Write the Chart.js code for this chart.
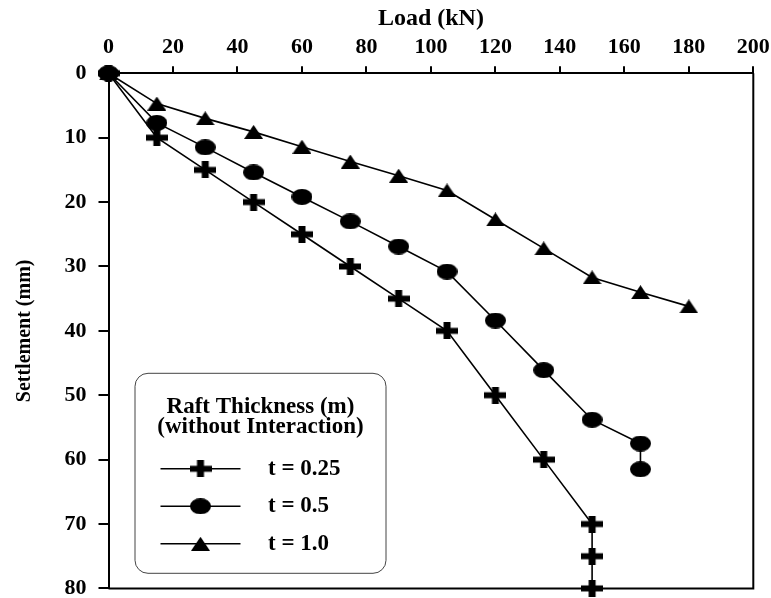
<!DOCTYPE html>
<html>
<head>
<meta charset="utf-8">
<script src="https://cdn.jsdelivr.net/npm/chart.js@4.4.0/dist/chart.umd.min.js"></script>
<style>
  html, body { margin: 0; padding: 0; background: #fff; }
</style>
</head>
<body>
<canvas id="myChart" width="771" height="598"></canvas>
<script>
// load (kN) vs settlement (mm)
var loadT025 = [0, 15, 30, 45, 60, 75, 90, 105, 120, 135, 150, 150, 150];
var settleT025 = [0, 10, 15, 20, 25, 30, 35, 40, 50, 60, 70, 75, 80];

var loadT05 = [0, 15, 30, 45, 60, 75, 90, 105, 120, 135, 150, 165, 165];
var settleT05 = [0, 7.7, 11.5, 15.4, 19.2, 23.0, 26.9, 30.8, 38.4, 46.1, 53.8, 57.5, 61.5];

var loadT10 = [0, 15, 30, 45, 60, 75, 90, 105, 120, 135, 150, 165, 180];
var settleT10 = [0, 4.7, 7.0, 9.1, 11.4, 13.7, 15.9, 18.2, 22.7, 27.2, 31.7, 34.0, 36.2];

var seriesNames = ['t = 0.25', 't = 0.5', 't = 1.0'];
var keyTitle = ['Raft Thickness (m)', '(without Interaction)'];
var loadTicks = [0, 20, 40, 60, 80, 100, 120, 140, 160, 180, 200];
var settleTicks = [0, 10, 20, 30, 40, 50, 60, 70, 80];

var FONT = "'Liberation Serif', 'Times New Roman', serif";

function pts(xs, ys) {
    return xs.map(function (x, i) { return { x: x, y: ys[i] }; });
}

// the markers in the figure are a bit stretched, so build them as small images
function makeMarker(kind) {
    var c = document.createElement('canvas');
    var g;
    if (kind === 'plus') {
        c.width = 22; c.height = 17;
        g = c.getContext('2d');
        g.fillStyle = '#000';
        g.fillRect(0, 5.5, 22, 6);
        g.fillRect(7.5, 0, 7, 17);
    } else if (kind === 'ellipse') {
        c.width = 21; c.height = 16;
        g = c.getContext('2d');
        g.fillStyle = '#000';
        g.beginPath();
        g.ellipse(10.5, 8, 10.5, 8, 0, 0, Math.PI * 2);
        g.fill();
    } else {
        c.width = 19; c.height = 14;
        g = c.getContext('2d');
        g.fillStyle = '#000';
        g.beginPath();
        g.moveTo(9.5, 0);
        g.lineTo(19, 14);
        g.lineTo(0, 14);
        g.closePath();
        g.fill();
    }
    return c;
}

var markers = [makeMarker('plus'), makeMarker('ellipse'), makeMarker('triangle')];

function roundBox(ctx, x, y, w, h, r) {
    ctx.beginPath();
    ctx.moveTo(x + r, y);
    ctx.arcTo(x + w, y, x + w, y + h, r);
    ctx.arcTo(x + w, y + h, x, y + h, r);
    ctx.arcTo(x, y + h, x, y, r);
    ctx.arcTo(x, y, x + w, y, r);
    ctx.closePath();
}

var frameAndKey = {
    id: 'frameAndKey',
    beforeDatasetsDraw: function (chart) {
        var a = chart.chartArea, ctx = chart.ctx;
        ctx.save();
        ctx.strokeStyle = '#000';
        ctx.lineWidth = 2;
        ctx.beginPath();
        ctx.moveTo(a.right, a.top);
        ctx.lineTo(a.right, a.bottom);
        ctx.lineTo(a.left, a.bottom);
        ctx.stroke();
        ctx.restore();
    },
    afterDatasetsDraw: function (chart) {
        var a = chart.chartArea, ctx = chart.ctx;
        var bx = a.left + 26.5, by = a.top + 300, bw = 251, bh = 200;
        ctx.save();
        roundBox(ctx, bx, by, bw, bh, 13);
        ctx.fillStyle = '#fff';
        ctx.fill();
        ctx.strokeStyle = '#444';
        ctx.lineWidth = 1;
        ctx.stroke();

        ctx.fillStyle = '#000';
        ctx.font = 'bold 23px ' + FONT;
        ctx.textAlign = 'center';
        ctx.textBaseline = 'middle';
        ctx.fillText(keyTitle[0], bx + bw / 2, by + 34);
        ctx.fillText(keyTitle[1], bx + bw / 2, by + 54);

        ctx.font = 'bold 23px ' + FONT;
        ctx.textAlign = 'left';
        chart.data.datasets.forEach(function (ds, i) {
            var yy = by + 95.5 + i * 37.5;
            ctx.strokeStyle = '#000';
            ctx.lineWidth = 1.6;
            ctx.beginPath();
            ctx.moveTo(bx + 25.5, yy);
            ctx.lineTo(bx + 105.5, yy);
            ctx.stroke();
            var m = markers[i];
            ctx.drawImage(m, bx + 65.5 - m.width / 2, yy - m.height / 2);
            ctx.fillText(ds.label, bx + 133, yy);
        });
        ctx.restore();
    }
};

var axisFont = { family: FONT, size: 22, weight: 'bold' };

var ctx = document.getElementById('myChart').getContext('2d');
var chart = new Chart(ctx, {
    type: 'scatter',
    data: {
        datasets: [{
            label: seriesNames[0],
            data: pts(loadT025, settleT025),
            order: 1
        }, {
            label: seriesNames[1],
            data: pts(loadT05, settleT05),
            order: 0
        }, {
            label: seriesNames[2],
            data: pts(loadT10, settleT10),
            order: 2
        }].map(function (ds, i) {
            ds.showLine = true;
            ds.borderColor = '#000';
            ds.backgroundColor = '#000';
            ds.borderWidth = 1.6;
            ds.pointStyle = markers[i];
            ds.pointRadius = 8;
            ds.pointHoverRadius = 8;
            ds.clip = false;
            return ds;
        })
    },
    options: {
        responsive: false,
        animation: false,
        layout: { padding: { left: 0, top: 0, right: 17.7, bottom: 9.3 } },
        plugins: {
            legend: { display: false },
            tooltip: { enabled: false }
        },
        scales: {
            x: {
                type: 'linear',
                position: 'top',
                min: 0,
                max: 200,
                afterBuildTicks: function (s) {
                    s.ticks = loadTicks.map(function (v) { return { value: v }; });
                },
                afterFit: function (s) {
                    s.height = 73.3;
                    s.paddingLeft = 0;
                    s.paddingRight = 0;
                },
                grid: { drawOnChartArea: false, drawTicks: true, tickLength: 7, color: '#000', lineWidth: 2 },
                border: { display: true, color: '#000', width: 2 },
                ticks: { color: '#000', font: axisFont, padding: 6, maxRotation: 0, autoSkip: false },
                title: {
                    display: true,
                    text: 'Load (kN)',
                    color: '#000',
                    font: { family: FONT, size: 24, weight: 'bold' },
                    padding: { top: 4, bottom: 0 }
                }
            },
            y: {
                type: 'linear',
                reverse: true,
                min: 0,
                max: 80,
                afterBuildTicks: function (s) {
                    s.ticks = settleTicks.map(function (v) { return { value: v }; });
                },
                afterFit: function (s) {
                    s.width = 108.5;
                    s.paddingTop = 0;
                    s.paddingBottom = 0;
                },
                grid: { drawOnChartArea: false, drawTicks: true, tickLength: 10, color: '#000', lineWidth: 2 },
                border: { display: true, color: '#000', width: 2 },
                ticks: { color: '#000', font: axisFont, padding: 12, autoSkip: false },
                title: {
                    display: true,
                    text: 'Settlement (mm)',
                    color: '#000',
                    font: { family: FONT, size: 20, weight: 'bold' },
                    padding: { top: 13, bottom: 0 }
                }
            }
        }
    },
    plugins: [frameAndKey]
});
</script>
</body>
</html>
